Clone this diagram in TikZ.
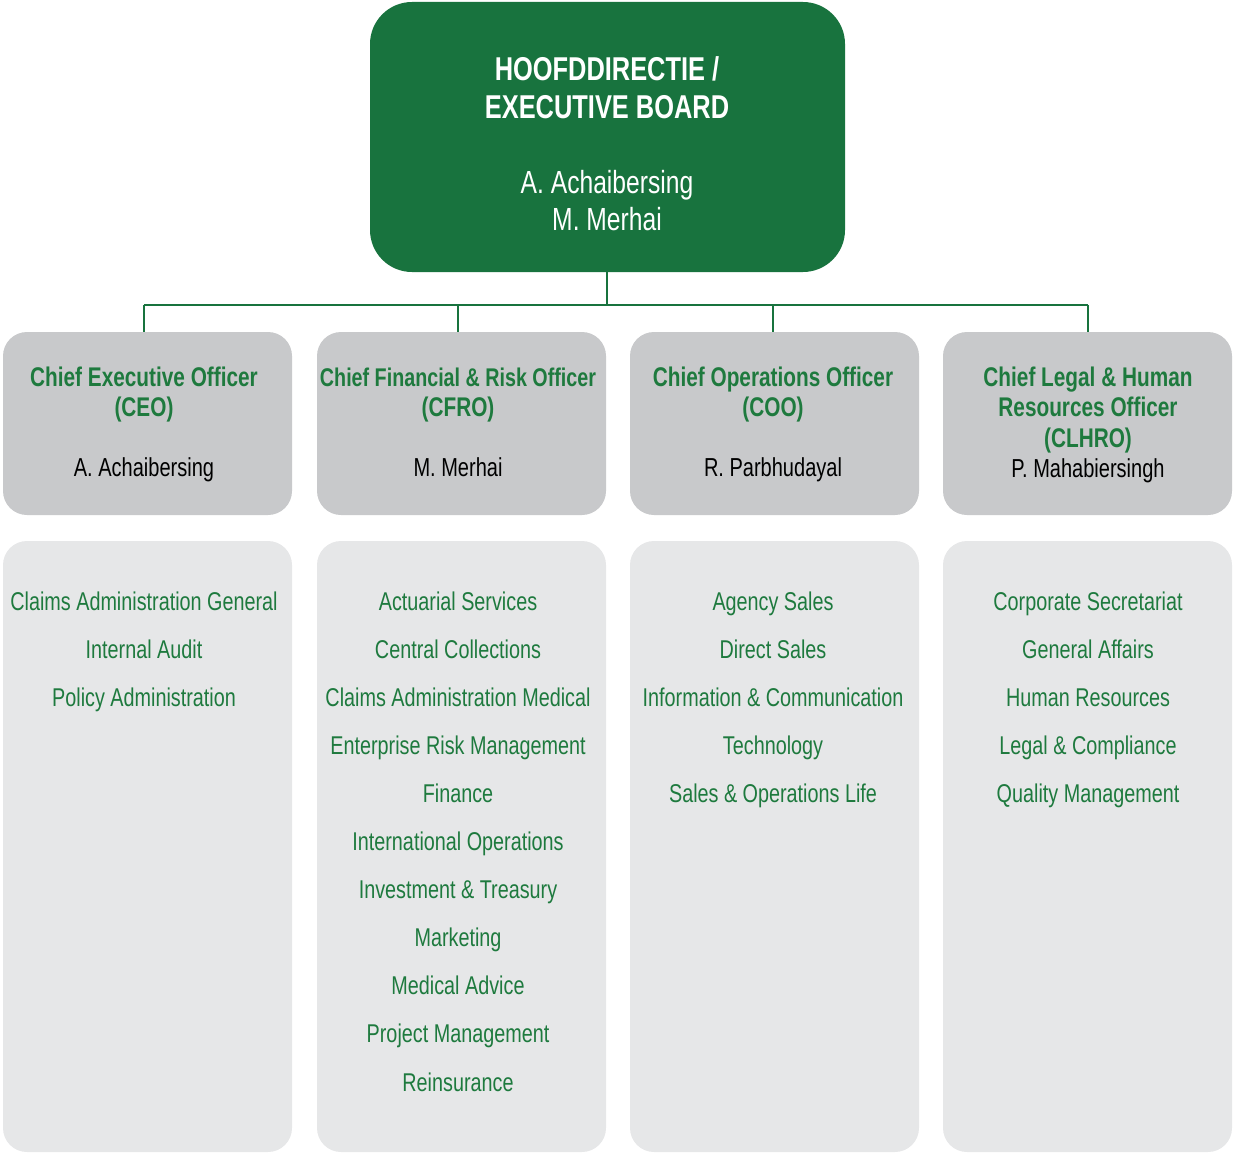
\documentclass[tikz,border=0pt]{standalone}
\usepackage{fontspec}
\setmainfont{Liberation Sans}[FakeStretch=0.77]
\definecolor{dkgreen}{HTML}{18733E}
\definecolor{txtgreen}{HTML}{1E7A3E}
\definecolor{midgray}{HTML}{C8C9CB}
\definecolor{ltgray}{HTML}{E6E7E8}
\tikzset{
  boardbox/.style={fill=dkgreen, rounded corners=42pt, minimum width=475pt, minimum height=270pt, inner sep=0pt},
  headbox/.style={fill=midgray, rounded corners=24pt, minimum width=289pt, minimum height=183pt, inner sep=0pt},
  listbox/.style={fill=ltgray, rounded corners=24pt, minimum width=289pt, minimum height=611pt, inner sep=0pt},
  boardtitle/.style={anchor=base, inner sep=0pt, text=white, font=\fontsize{33}{38}\selectfont\bfseries},
  boardname/.style={anchor=base, inner sep=0pt, text=white, font=\fontsize{32}{37}\selectfont},
  headtitle/.style={anchor=base, inner sep=0pt, text=txtgreen, font=\fontsize{27}{30}\selectfont\bfseries},
  headname/.style={anchor=base, inner sep=0pt, text=black, font=\fontsize{26}{30}\selectfont},
  item/.style={anchor=base, inner sep=0pt, text=txtgreen, font=\fontsize{25.7}{30}\selectfont},
  conn/.style={draw=dkgreen, line width=2pt}
}
\begin{document}
\begin{tikzpicture}[x=1pt,y=-1pt]
\useasboundingbox (0,0) rectangle (1233,1153);
% boxes
\node[boardbox] (board) at (607.5,137) {};
\node[headbox] (ceo) at (147.5,423.5) {};
\node[headbox] (cfro) at (461.5,423.5) {};
\node[headbox] (coo) at (774.5,423.5) {};
\node[headbox] (clhro) at (1087.5,423.5) {};
\node[listbox] (ceolist) at (147.5,846.5) {};
\node[listbox] (cfrolist) at (461.5,846.5) {};
\node[listbox] (coolist) at (774.5,846.5) {};
\node[listbox] (clhrolist) at (1087.5,846.5) {};
% connectors
\coordinate (bus) at (607,305);
\coordinate (ceoIn) at (144,332);
\coordinate (cfroIn) at (458,332);
\coordinate (cooIn) at (773,332);
\coordinate (clhroIn) at (1088,332);
\draw[conn] (board.south -| bus) -- (bus);
\draw[conn] (bus -| ceoIn) -- (bus -| clhroIn);
\draw[conn] (bus -| ceoIn) -- (ceoIn);
\draw[conn] (bus -| cfroIn) -- (cfroIn);
\draw[conn] (bus -| cooIn) -- (cooIn);
\draw[conn] (bus -| clhroIn) -- (clhroIn);
% board text
\node[boardtitle] (bt1) at (607,81) {HOOFDDIRECTIE /};
\node[boardtitle] (bt2) at (607,118) {EXECUTIVE BOARD};
\node[boardname] (bn1) at (607,193) {A. Achaibersing};
\node[boardname] (bn2) at (607,230) {M. Merhai};
% head texts
\node[headtitle] (ceot1) at (144,386) {Chief Executive Officer};
\node[headtitle] (ceot2) at (144,416) {(CEO)};
\node[headname] (ceon) at (144,476) {A. Achaibersing};
\node[headtitle, font=\fontsize{25.6}{30}\selectfont\bfseries] (cfrot1) at (458,386) {Chief Financial \& Risk Officer};
\node[headtitle] (cfrot2) at (458,416) {(CFRO)};
\node[headname] (cfron) at (458,476) {M. Merhai};
\node[headtitle] (coot1) at (773,386) {Chief Operations Officer};
\node[headtitle] (coot2) at (773,416) {(COO)};
\node[headname] (coon) at (773,476) {R. Parbhudayal};
\node[headtitle] (clhrot1) at (1088,386) {Chief Legal \& Human};
\node[headtitle] (clhrot2) at (1088,416) {Resources Officer};
\node[headtitle] (clhrot3) at (1088,447) {(CLHRO)};
\node[headname] (clhron) at (1088,477) {P. Mahabiersingh};
% lists
\foreach \t [count=\i] in {Claims Administration General, Internal Audit, Policy Administration}
  \node[item] (ceoi\i) at (144,{610+48.1*(\i-1)}) {\t};
\foreach \t [count=\i] in {Actuarial Services, Central Collections, Claims Administration Medical, Enterprise Risk Management, Finance, International Operations, Investment \& Treasury, Marketing, Medical Advice, Project Management, Reinsurance}
  \node[item] (cfroi\i) at (458,{610+48.1*(\i-1)}) {\t};
\foreach \t [count=\i] in {Agency Sales, Direct Sales, Information \& Communication, Technology, Sales \& Operations Life}
  \node[item] (cooi\i) at (773,{610+48.1*(\i-1)}) {\t};
\foreach \t [count=\i] in {Corporate Secretariat, General Affairs, Human Resources, Legal \& Compliance, Quality Management}
  \node[item] (clhroi\i) at (1088,{610+48.1*(\i-1)}) {\t};
\end{tikzpicture}
\end{document}
